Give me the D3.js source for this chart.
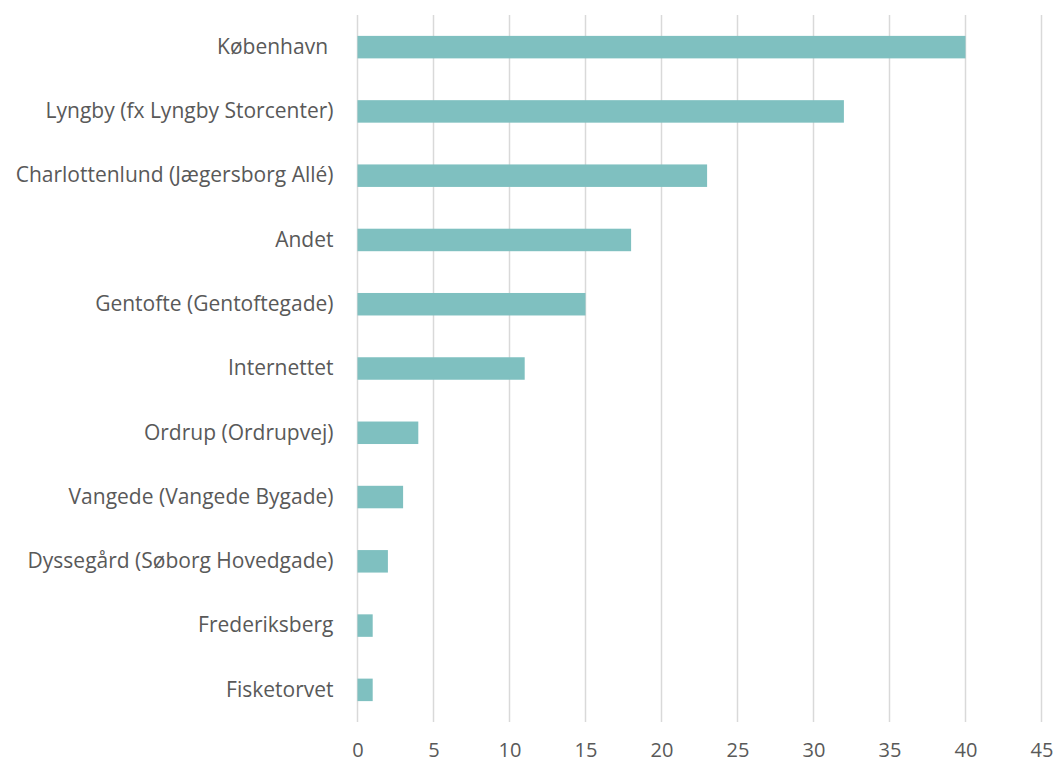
<!DOCTYPE html>
<html lang="da">
<head>
  <meta charset="UTF-8">
  <script src="https://d3js.org/d3.v7.min.js"></script>
  <style>
    body { margin: 0; background: #fff; }
    text { font-family: "Open Sans", sans-serif; fill: #595959; }
  </style>
</head>
<body>
<div id="chart"></div>
<script>
const categories = [
  'København ', 'Lyngby (fx Lyngby Storcenter)', 'Charlottenlund (Jægersborg Allé)',
  'Andet', 'Gentofte (Gentoftegade)', 'Internettet', 'Ordrup (Ordrupvej)',
  'Vangede (Vangede Bygade)', 'Dyssegård (Søborg Hovedgade)', 'Frederiksberg', 'Fisketorvet'
];
const values = [40, 32, 23, 18, 15, 11, 4, 3, 2, 1, 1];
const xTicks = [0, 5, 10, 15, 20, 25, 30, 35, 40, 45];

const width = 1056, height = 763;
const margin = { top: 15, right: 14.5, bottom: 41, left: 357.5 };

const svg = d3.select('#chart').append('svg')
  .attr('width', width)
  .attr('height', height);

const x = d3.scaleLinear()
  .domain([0, 45])
  .range([margin.left, width - margin.right]);

const y = d3.scaleBand()
  .domain(categories)
  .range([margin.top, height - margin.bottom])
  .paddingInner(0.65)
  .paddingOuter(0.325);

// gridlines
svg.append('g')
  .selectAll('line')
  .data(xTicks)
  .join('line')
  .attr('x1', d => x(d)).attr('x2', d => x(d))
  .attr('y1', margin.top).attr('y2', height - margin.bottom)
  .attr('stroke', '#d9d9d9')
  .attr('stroke-width', 1.5);

svg.append('g')
  .selectAll('rect')
  .data(values)
  .join('rect')
  .attr('x', x(0))
  .attr('y', (d, i) => y(categories[i]))
  .attr('width', d => x(d) - x(0))
  .attr('height', y.bandwidth())
  .attr('fill', '#7fc0c0');

// x axis labels
const xAxis = svg.append('g')
  .attr('transform', `translate(0,${height - margin.bottom})`)
  .call(d3.axisBottom(x).tickValues(xTicks).tickSize(0).tickPadding(21));
xAxis.select('.domain').remove();
xAxis.selectAll('text')
  .style('font-family', '"Open Sans", sans-serif')
  .style('font-size', '20px')
  .attr('fill', '#595959');

// y axis labels
const yAxis = svg.append('g')
  .attr('transform', `translate(${x(0)},0)`)
  .call(d3.axisLeft(y).tickSize(0).tickPadding(24));
yAxis.select('.domain').remove();
yAxis.selectAll('text')
  .style('font-family', '"Open Sans", sans-serif')
  .style('font-size', '21px')
  .style('white-space', 'pre')
  .attr('fill', '#595959');
</script>
</body>
</html>
